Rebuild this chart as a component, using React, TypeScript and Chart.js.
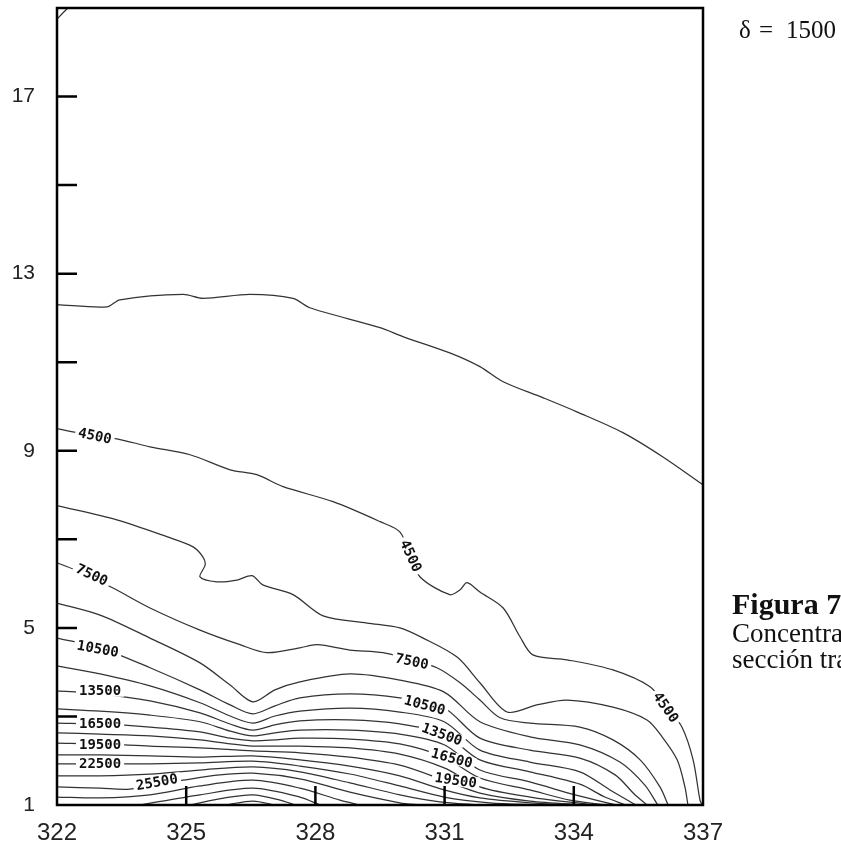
import React, { useEffect, useRef } from 'react';
import { Chart, registerables } from 'chart.js';
Chart.register(...registerables);

// ---- axis values ----
const xMin = 322;
const xMax = 337;
const yMin = 1;
const yMax = 19;
const yLabelValues = [1, 5, 9, 13, 17];
const yInnerTicks = [3, 5, 7, 9, 11, 13, 15, 17];
const xInnerTicks = [325, 328, 331, 334];

// ---- contour lines (x, y) — interval δ = 1500 ----
const c1500: number[][] = [[322, 18.75], [322.25, 19]];
const c3000: number[][] = [[322, 12.3], [323.16, 12.25], [323.46, 12.41], [324.93, 12.53], [325.39, 12.44], [326.48, 12.53], [327.48, 12.44], [327.87, 12.23], [329.5, 11.78], [330.03, 11.58], [331.12, 11.21], [331.82, 10.9], [332.36, 10.56], [333.28, 10.2], [334.07, 9.88], [335.14, 9.41], [336.07, 8.86], [337, 8.23]];
const c4500: number[][] = [[322, 9.5], [322.46, 9.41], [323.39, 9.27], [324.16, 9.09], [325.09, 8.91], [326.02, 8.57], [326.64, 8.46], [327.25, 8.19], [328.41, 7.85], [329.5, 7.4], [329.96, 7.17], [330.2, 6.65], [330.43, 6.15], [331.12, 5.75], [331.36, 5.86], [331.52, 6.02], [331.82, 5.81], [332.36, 5.45], [332.75, 4.8], [333.05, 4.39], [333.84, 4.28], [334.91, 4.05], [335.77, 3.67], [336.16, 3.21], [336.51, 2.76], [336.77, 2.02], [336.93, 1.11], [336.98, 1.0]];
const c6000: number[][] = [[322, 7.76], [323.39, 7.44], [324.55, 7.06], [325.16, 6.83], [325.39, 6.6], [325.44, 6.42], [325.32, 6.15], [325.71, 6.04], [326.18, 6.08], [326.53, 6.18], [326.78, 5.97], [327.48, 5.75], [328.18, 5.27], [329.2, 5.11], [329.96, 5.0], [330.5, 4.77], [331.29, 4.34], [331.82, 3.76], [332.45, 3.1], [333.14, 3.26], [333.84, 3.37], [334.91, 3.21], [335.7, 2.92], [336.05, 2.54], [336.4, 2.02], [336.58, 1.41], [336.65, 1.0]];
const c7500: number[][] = [[322, 6.47], [322.42, 6.31], [323.3, 5.9], [324.16, 5.45], [325.32, 4.95], [326.25, 4.62], [326.88, 4.44], [327.64, 4.55], [328.04, 4.62], [328.8, 4.5], [329.57, 4.44], [330.2, 4.28], [330.82, 4.1], [331.36, 3.76], [331.82, 3.37], [332.29, 2.97], [332.98, 2.85], [334.14, 2.76], [334.91, 2.47], [335.54, 2.02], [336.0, 1.41], [336.19, 1.0]];
const c9000: number[][] = [[322, 5.56], [323, 5.29], [324.16, 4.77], [325.32, 4.21], [326.02, 3.71], [326.55, 3.33], [327.06, 3.6], [327.64, 3.78], [328.8, 3.96], [329.96, 3.82], [330.99, 3.55], [331.82, 2.88], [332.98, 2.54], [334.14, 2.36], [335.07, 1.97], [335.65, 1.45], [335.95, 1.0]];
const c10500: number[][] = [[322, 4.77], [323, 4.55], [324.16, 4.1], [325.32, 3.6], [326.02, 3.26], [326.55, 3.06], [327.06, 3.24], [327.64, 3.42], [328.8, 3.51], [329.96, 3.42], [330.99, 3.19], [331.82, 2.51], [332.98, 2.24], [334.14, 2.06], [334.96, 1.68], [335.42, 1.23], [335.7, 1.0]];
const c12000: number[][] = [[322, 4.14], [323, 3.96], [324.16, 3.69], [325.32, 3.31], [326.02, 3.01], [326.55, 2.85], [327.06, 3.01], [327.64, 3.12], [328.8, 3.19], [329.96, 3.1], [330.99, 2.88], [331.82, 2.24], [332.98, 1.97], [334.14, 1.75], [334.84, 1.34], [335.44, 1.0]];
const c13500: number[][] = [[322, 3.58], [323, 3.51], [324.16, 3.35], [325.32, 3.08], [326.02, 2.83], [326.55, 2.69], [327.06, 2.81], [327.64, 2.9], [328.8, 2.92], [329.96, 2.83], [330.99, 2.6], [331.82, 2.02], [332.98, 1.75], [334.14, 1.47], [334.72, 1.18], [335.21, 1.0]];
const c15000: number[][] = [[322, 3.17], [323, 3.12], [324.16, 3.03], [325.32, 2.88], [326.02, 2.67], [326.55, 2.56], [327.06, 2.63], [327.64, 2.69], [328.8, 2.69], [329.96, 2.6], [330.99, 2.36], [331.82, 1.79], [332.98, 1.52], [334.03, 1.23], [334.98, 1.0]];
const c16500: number[][] = [[322, 2.85], [323, 2.83], [324.16, 2.76], [325.32, 2.65], [326.02, 2.51], [326.55, 2.45], [327.06, 2.47], [327.64, 2.51], [328.8, 2.49], [329.96, 2.38], [330.99, 2.08], [331.82, 1.61], [332.98, 1.34], [333.91, 1.11], [334.75, 1.0]];
const c18000: number[][] = [[322, 2.63], [323, 2.6], [324.16, 2.56], [325.32, 2.47], [326.02, 2.38], [326.55, 2.33], [327.06, 2.33], [327.64, 2.33], [328.8, 2.29], [329.96, 2.15], [330.99, 1.84], [331.82, 1.41], [332.98, 1.18], [334.51, 1.0]];
const c19500: number[][] = [[322, 2.4], [323, 2.38], [324.16, 2.33], [325.32, 2.29], [326.55, 2.22], [327.64, 2.18], [328.8, 2.08], [329.96, 1.9], [330.99, 1.56], [331.82, 1.27], [332.98, 1.09], [334.28, 1.0]];
const c21000: number[][] = [[322, 2.13], [323, 2.13], [324.16, 2.11], [325.32, 2.08], [326.55, 2.11], [327.64, 2.02], [328.8, 1.88], [329.96, 1.66], [330.99, 1.34], [331.82, 1.16], [332.98, 1.05], [334.05, 1.0]];
const c22500: number[][] = [[322, 1.93], [323, 1.93], [324.16, 1.93], [325.32, 1.95], [326.55, 1.99], [327.64, 1.88], [328.8, 1.7], [329.96, 1.43], [330.99, 1.18], [332.05, 1.05], [333.21, 1.0]];
const c24000: number[][] = [[322, 1.66], [323, 1.66], [324.16, 1.7], [325.32, 1.79], [326.55, 1.86], [327.64, 1.75], [328.8, 1.5], [329.96, 1.23], [330.89, 1.07], [331.82, 1.0]];
const c25500: number[][] = [[322, 1.41], [323, 1.38], [323.69, 1.36], [324.93, 1.56], [325.78, 1.68], [326.55, 1.72], [327.64, 1.59], [328.8, 1.29], [329.96, 1.05], [330.43, 1.0]];
const c27000: number[][] = [[322, 1.18], [323, 1.16], [324.16, 1.23], [325.32, 1.43], [326.55, 1.56], [327.64, 1.38], [328.57, 1.11], [329.04, 1.0]];
const c28500: number[][] = [[323.93, 1.0], [325.32, 1.23], [326.55, 1.38], [327.64, 1.18], [328.11, 1.0]];
const c30000: number[][] = [[325.09, 1.0], [325.9, 1.16], [326.55, 1.23], [327.18, 1.11], [327.53, 1.0]];
const c31500: number[][] = [[325.9, 1.0], [326.55, 1.09], [327.06, 1.0]];

const contours = [c1500, c3000, c4500, c6000, c7500, c9000, c10500, c12000, c13500, c15000, c16500, c18000, c19500, c21000, c22500, c24000, c25500, c27000, c28500, c30000, c31500];

// ---- contour labels ----
const labelText = ['4500', '7500', '10500', '13500', '16500', '19500', '22500', '25500', '4500', '7500', '10500', '13500', '16500', '19500', '4500'];
const labelX = [322.88, 322.81, 322.95, 323.0, 323.0, 323.0, 323.0, 324.32, 330.22, 330.24, 330.54, 330.94, 331.17, 331.26, 336.14];
const labelY = [9.34, 6.2, 4.53, 3.58, 2.85, 2.38, 1.93, 1.52, 6.63, 4.25, 3.26, 2.6, 2.06, 1.56, 3.21];
const labelAngle = [12, 25, 10, 0, 0, 0, 0, -10, 65, 12, 15, 20, 15, 8, 55];

const deltaSymbol = 'δ';
const deltaValue = '1500';
const figTitle = 'Figura 7';
const captionLines = ['Concentración de sedimentos en la', 'sección transversal'];

const decorPlugin = {
  id: 'decor',
  afterDatasetsDraw(chart: any) {
    const { ctx, chartArea, scales } = chart;
    const xs = scales.x;
    const ys = scales.y;
    ctx.save();
    // contour labels
    ctx.font = '600 14px "DejaVu Sans Mono"';
    ctx.textAlign = 'center';
    ctx.textBaseline = 'middle';
    labelText.forEach((t, i) => {
      const px = xs.getPixelForValue(labelX[i]);
      const py = ys.getPixelForValue(labelY[i]);
      ctx.save();
      ctx.translate(px, py);
      ctx.rotate((labelAngle[i] * Math.PI) / 180);
      const w = ctx.measureText(t).width;
      ctx.fillStyle = '#ffffff';
      ctx.fillRect(-w / 2 - 3, -6, w + 6, 12);
      ctx.fillStyle = '#111';
      ctx.fillText(t, 0, 1);
      ctx.restore();
    });
    // frame
    ctx.strokeStyle = '#000';
    ctx.lineWidth = 2.5;
    ctx.strokeRect(chartArea.left, chartArea.top, chartArea.right - chartArea.left, chartArea.bottom - chartArea.top);
    // inward ticks
    ctx.lineWidth = 2.5;
    ctx.beginPath();
    yInnerTicks.forEach((v) => {
      const py = ys.getPixelForValue(v);
      ctx.moveTo(chartArea.left, py);
      ctx.lineTo(chartArea.left + 20, py);
    });
    xInnerTicks.forEach((v) => {
      const px = xs.getPixelForValue(v);
      ctx.moveTo(px, chartArea.bottom);
      ctx.lineTo(px, chartArea.bottom - 19);
    });
    ctx.stroke();
    // side texts
    ctx.fillStyle = '#111';
    ctx.textAlign = 'left';
    ctx.textBaseline = 'alphabetic';
    ctx.font = '25px "Liberation Serif"';
    ctx.fillText(deltaSymbol, 739, 38);
    ctx.fillText('=', 759, 38);
    ctx.fillText(deltaValue, 786, 38);
    ctx.font = 'bold 30px "Liberation Serif"';
    ctx.fillText(figTitle, 732, 614);
    ctx.font = '27px "Liberation Serif"';
    ctx.fillText(captionLines[0], 732, 642);
    ctx.fillText(captionLines[1], 732, 668);
    ctx.restore();
  },
};

export default function App() {
  const ref = useRef<HTMLCanvasElement>(null);
  useEffect(() => {
    if (!ref.current) return;
    const chart = new Chart(ref.current, {
      type: 'scatter',
      data: {
        datasets: contours.map((c) => ({
          data: c.map(([x, y]) => ({ x, y })),
          showLine: true,
          pointRadius: 0,
          borderColor: '#333333',
          borderWidth: 1.25,
          tension: 0.3,
          fill: false,
        })),
      },
      options: {
        animation: false,
        responsive: false,
        devicePixelRatio: 1,
        layout: { padding: { top: 8, right: 138, left: 0, bottom: 0 } },
        plugins: { legend: { display: false }, tooltip: { enabled: false } },
        scales: {
          x: {
            type: 'linear',
            min: xMin,
            max: xMax,
            grid: { display: false, drawTicks: false },
            border: { display: false },
            ticks: {
              stepSize: 3,
              padding: 14,
              color: '#222',
              font: { family: '"Liberation Sans"', size: 24 },
              maxRotation: 0,
            },
            afterFit: (s: any) => {
              s.height = 43;
              s.paddingLeft = 0;
              s.paddingRight = 0;
            },
          },
          y: {
            type: 'linear',
            min: yMin,
            max: yMax,
            grid: { display: false, drawTicks: false },
            border: { display: false },
            ticks: {
              stepSize: 2,
              padding: 22,
              color: '#222',
              font: { family: '"Liberation Sans"', size: 21 },
              callback: (v: any) => (yLabelValues.includes(Number(v)) ? String(v) : ''),
            },
            afterFit: (s: any) => {
              s.width = 57;
              s.paddingTop = 0;
              s.paddingBottom = 0;
            },
          },
        },
      },
      plugins: [decorPlugin],
    });
    return () => chart.destroy();
  }, []);
  return (
    <div style={{ position: 'absolute', left: 0, top: 0, width: 841, height: 848, background: '#fff' }}>
      <canvas ref={ref} width={841} height={848} style={{ display: 'block' }} />
    </div>
  );
}
